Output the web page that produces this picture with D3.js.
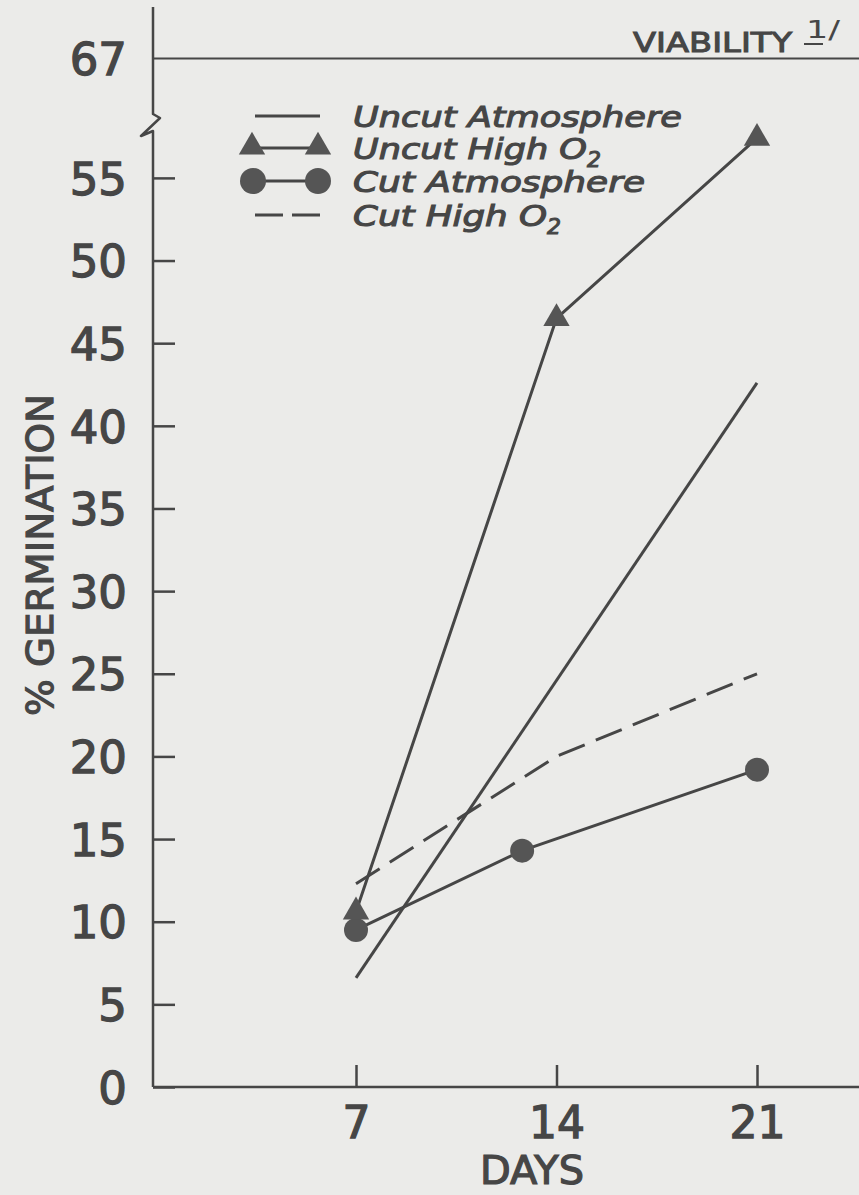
<!DOCTYPE html>
<html>
<head>
<meta charset="utf-8">
<script src="https://cdn.jsdelivr.net/npm/d3@7"></script>
<style>
  body { margin: 0; background: #ebebe9; }
  svg { display: block; }
</style>
</head>
<body>
<svg id="chart" width="859" height="1195"></svg>
<script>
// values
const dayTicks = [7, 14, 21];
const pctTicks = [0, 5, 10, 15, 20, 25, 30, 35, 40, 45, 50, 55];
const viability = 67;

const uncutAtmDays = [7, 21];
const uncutAtm = [6.6, 42.6];
const uncutO2Days = [7, 14, 21];
const uncutO2 = [10.6, 46.5, 57.4];
const cutAtmDays = [7, 12.8, 21];
const cutAtm = [9.5, 14.3, 19.2];
const cutO2Days = [7, 14, 21];
const cutO2 = [12.3, 20.0, 25.0];

const legendNames = ["Uncut Atmosphere", "Uncut High O", "Cut Atmosphere", "Cut High O"];
const legendSubs = ["", "2", "", "2"];

let ink = "#464646";
let chart = d3.select("#chart");

chart.append("rect").attr("width", 859).attr("height", 1195).attr("fill", "#ebebe9");

// origin of axes
let ox = 153, oy = 1087;

//x scale : days
let x = d3.scaleLinear().domain([7, 21]).range([356, 757]);
//y scale : broken between 58 and 67
let y = d3.scaleLinear().domain([0, 58, 67]).range([oy, 128.3, 58]);

let g = chart.append("g");

// y axis line with break mark
g.append("path")
    .attr("d", "M" + ox + ",7 L" + ox + ",114 L160,118 L141,136 L" + ox + ",131 L" + ox + "," + oy)
    .attr("fill", "none")
    .attr("stroke", ink)
    .attr("stroke-width", 2.5)
    .attr("stroke-linejoin", "round");

// y ticks (inward) and labels
let yAxis = g.append("g")
    .attr("transform", "translate(" + ox + ",0)")
    .call(d3.axisLeft(y).tickValues(pctTicks.concat([viability])).tickSize(-22).tickPadding(26).tickFormat(d3.format("d")));
yAxis.select(".domain").remove();
yAxis.selectAll(".tick line").attr("stroke", ink).attr("stroke-width", 2.5);
yAxis.selectAll(".tick").filter(function(d){ return d === viability; })
    .select("line").attr("x2", 859 - ox).attr("stroke-width", 2);
yAxis.selectAll(".tick text")
    .attr("fill", ink)
    .attr("stroke", ink).attr("stroke-width", 1.3)
    .attr("font-family", "DejaVu Sans")
    .attr("font-size", "45px")
    .attr("dy", "0.36em");

// x axis line
g.append("line")
    .attr("x1", ox).attr("x2", 859)
    .attr("y1", oy).attr("y2", oy)
    .attr("stroke", ink).attr("stroke-width", 2.5);

let xAxis = g.append("g")
    .attr("transform", "translate(0," + oy + ")")
    .call(d3.axisBottom(x).tickValues(dayTicks).tickSize(-22).tickPadding(20).tickFormat(d3.format("d")));
xAxis.select(".domain").remove();
xAxis.selectAll(".tick line").attr("stroke", ink).attr("stroke-width", 2.5);
xAxis.selectAll(".tick text")
    .attr("fill", ink)
    .attr("stroke", ink).attr("stroke-width", 1.3)
    .attr("font-family", "DejaVu Sans")
    .attr("font-size", "44px");

//axis titles
g.append("text")
    .attr("text-anchor", "middle")
    .attr("font-family", "DejaVu Sans")
    .attr("font-size", "38px")
    .attr("fill", ink).attr("stroke", ink).attr("stroke-width", 1.2)
    .attr("transform", "translate(53,555) rotate(-90)")
    .attr("textLength", 322).attr("lengthAdjust", "spacingAndGlyphs")
    .text("% GERMINATION");

g.append("text")
    .attr("text-anchor", "middle")
    .attr("font-family", "DejaVu Sans")
    .attr("font-size", "39px")
    .attr("fill", ink).attr("stroke", ink).attr("stroke-width", 1.2)
    .attr("x", 532).attr("y", 1184)
    .attr("textLength", 104).attr("lengthAdjust", "spacingAndGlyphs")
    .text("DAYS");

// viability label
g.append("text")
    .attr("font-family", "DejaVu Sans")
    .attr("font-size", "26px")
    .attr("fill", ink).attr("stroke", ink).attr("stroke-width", 1)
    .attr("x", 633).attr("y", 52)
    .attr("textLength", 159).attr("lengthAdjust", "spacingAndGlyphs")
    .text("VIABILITY");
g.append("text")
    .attr("font-family", "DejaVu Sans")
    .attr("font-size", "24px")
    .attr("fill", ink)
    .attr("x", 806).attr("y", 38)
    .attr("textLength", 34).attr("lengthAdjust", "spacingAndGlyphs")
    .text("1/");
g.append("line")
    .attr("x1", 804).attr("x2", 823).attr("y1", 44).attr("y2", 44)
    .attr("stroke", ink).attr("stroke-width", 2);

// series
let line = d3.line().x(function(d){ return x(d[0]); }).y(function(d){ return y(d[1]); });
function pairs(ds, vs){ return ds.map(function(d, i){ return [d, vs[i]]; }); }

let lines = g.append("g").attr("fill", "none").attr("stroke", ink).attr("stroke-width", 3);
lines.append("path").attr("d", line(pairs(uncutAtmDays, uncutAtm)));
lines.append("path").attr("d", line(pairs(uncutO2Days, uncutO2)));
lines.append("path").attr("d", line(pairs(cutAtmDays, cutAtm)));
lines.append("path").attr("d", line(pairs(cutO2Days, cutO2)))
    .attr("stroke-dasharray", "28,12");

let tri = d3.symbol().type(d3.symbolTriangle).size(300);

g.selectAll("circle.cut")
    .data(pairs(cutAtmDays, cutAtm))
    .enter()
    .append("circle")
        .attr("cx", function(d){ return x(d[0]); })
        .attr("cy", function(d){ return y(d[1]); })
        .attr("r", 12)
        .attr("fill", "#555");

g.selectAll("path.tri")
    .data(pairs(uncutO2Days, uncutO2))
    .enter()
    .append("path")
        .attr("d", tri)
        .attr("transform", function(d){ return "translate(" + x(d[0]) + "," + y(d[1]) + ")"; })
        .attr("fill", "#555");

// legend
let lg = g.append("g");
let rowY = [116, 148, 181, 215];
lg.append("line").attr("x1", 255).attr("x2", 320).attr("y1", rowY[0]).attr("y2", rowY[0])
    .attr("stroke", ink).attr("stroke-width", 3);
lg.append("line").attr("x1", 252).attr("x2", 318).attr("y1", rowY[1]).attr("y2", rowY[1])
    .attr("stroke", ink).attr("stroke-width", 3);
[252, 318].forEach(function(cx){
    lg.append("path").attr("d", tri).attr("fill", "#555")
        .attr("transform", "translate(" + cx + "," + (rowY[1] - 1) + ")");
});
lg.append("line").attr("x1", 253).attr("x2", 318).attr("y1", rowY[2]).attr("y2", rowY[2])
    .attr("stroke", ink).attr("stroke-width", 3);
[253, 318].forEach(function(cx){
    lg.append("circle").attr("cx", cx).attr("cy", rowY[2]).attr("r", 13).attr("fill", "#555");
});
lg.append("line").attr("x1", 255).attr("x2", 320).attr("y1", rowY[3]).attr("y2", rowY[3])
    .attr("stroke", ink).attr("stroke-width", 3).attr("stroke-dasharray", "28,9");

let legendW = [329, 234, 292, 194];
legendNames.forEach(function(name, i){
    let t = lg.append("text")
        .attr("font-family", "DejaVu Sans")
        .attr("font-style", "italic")
        .attr("font-size", "29px")
        .attr("fill", ink).attr("stroke", ink).attr("stroke-width", 1.1)
        .attr("x", 353).attr("y", rowY[i] + 11);
    t.append("tspan")
        .attr("textLength", legendW[i]).attr("lengthAdjust", "spacingAndGlyphs")
        .text(name);
    if (legendSubs[i]) {
        t.append("tspan").attr("font-size", "22px").attr("dy", 8).text(legendSubs[i]);
    }
});
</script>
</body>
</html>
